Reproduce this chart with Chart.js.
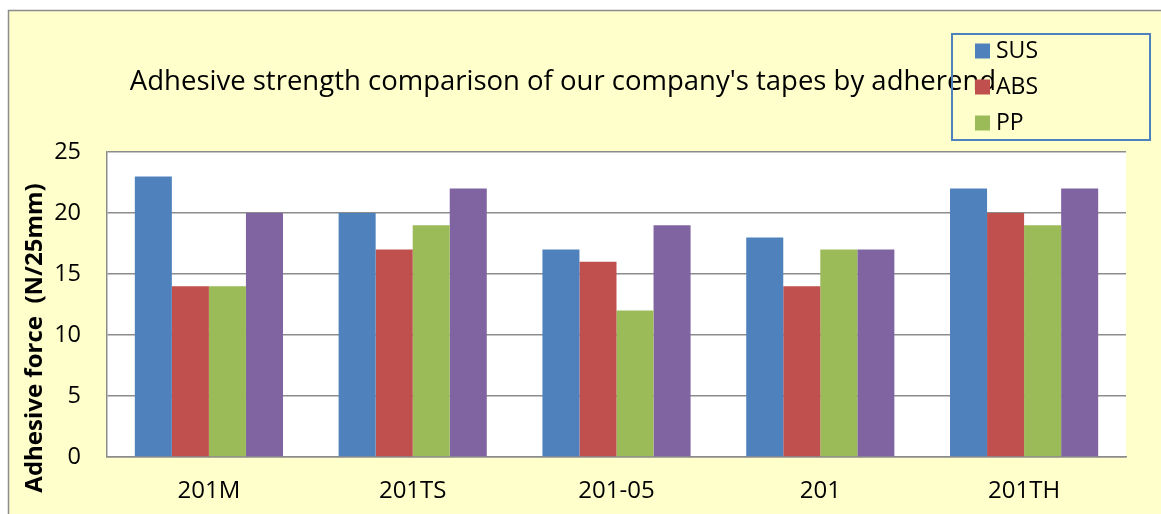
<!DOCTYPE html>
<html><head><meta charset="utf-8">
<script src="https://cdn.jsdelivr.net/npm/chart.js@4/dist/chart.umd.min.js"></script>
<style>html,body{margin:0;padding:0;background:#fff;overflow:hidden}</style>
</head><body>
<canvas id="c" width="1161" height="514" style="display:block;width:1161px;height:514px"></canvas>
<script>
const categories = ['201M', '201TS', '201-05', '201', '201TH'];
const susValues = [23, 20, 17, 18, 22];
const absValues = [14, 17, 16, 14, 20];
const ppValues = [14, 19, 12, 17, 19];
const fourthValues = [20, 22, 19, 17, 22];
const seriesNames = ['SUS', 'ABS', 'PP', ''];
const seriesColors = ['#4F81BD', '#C0504D', '#9BBB59', '#8064A2'];
const yTickValues = [0, 5, 10, 15, 20, 25];
const chartTitle = "Adhesive strength comparison of our company's tapes by adherend";
const yAxisTitle = 'Adhesive force  (N/25mm)';
const legendCount = 3;

const FONT = "'Open Sans', sans-serif";
const BG = '#FFFFCC';

const bgPlugin = {
  id: 'bg',
  beforeDraw(chart) {
    const ctx = chart.ctx, a = chart.chartArea;
    ctx.save();
    ctx.fillStyle = '#ffffff';
    ctx.fillRect(0, 0, chart.width, chart.height);
    ctx.fillStyle = BG;
    ctx.fillRect(8, 10, chart.width - 8, chart.height - 10);
    ctx.strokeStyle = '#8c8c8c';
    ctx.lineWidth = 1.5;
    ctx.beginPath();
    ctx.moveTo(8.5, chart.height);
    ctx.lineTo(8.5, 10.5);
    ctx.lineTo(chart.width, 10.5);
    ctx.stroke();
    ctx.fillStyle = '#ffffff';
    ctx.fillRect(a.left, a.top, a.right - a.left, a.bottom - a.top);
    ctx.restore();
  }
};

const overlayPlugin = {
  id: 'overlay',
  afterDraw(chart) {
    const ctx = chart.ctx;
    ctx.save();
    // y axis title
    ctx.translate(35, 338);
    ctx.rotate(-Math.PI / 2);
    ctx.fillStyle = '#000';
    ctx.font = "bold 24px " + FONT;
    ctx.textAlign = 'center';
    ctx.textBaseline = 'middle';
    ctx.fillText(yAxisTitle, 0, 0);
    ctx.restore();

    // legend
    ctx.save();
    ctx.strokeStyle = '#4F81BD';
    ctx.lineWidth = 2;
    ctx.strokeRect(952, 34, 198, 106);
    ctx.font = "23px " + FONT;
    ctx.textAlign = 'left';
    ctx.textBaseline = 'middle';
    const ds = chart.data.datasets;
    for (let i = 0; i < legendCount; i++) {
      const cy = 51 + i * 36;
      ctx.fillStyle = ds[i].backgroundColor;
      ctx.fillRect(975, cy - 7.5, 15, 15);
      ctx.fillStyle = '#000';
      ctx.fillText(ds[i].label, 996, cy);
    }
    ctx.restore();
  }
};

const dataSeries = [susValues, absValues, ppValues, fourthValues];

new Chart(document.getElementById('c'), {
  type: 'bar',
  data: {
    labels: categories,
    datasets: dataSeries.map((vals, i) => ({
      label: seriesNames[i],
      data: vals,
      backgroundColor: seriesColors[i],
      borderWidth: 0,
      categoryPercentage: 0.727,
      barPercentage: 1.0
    }))
  },
  options: {
    responsive: false,
    animation: false,
    devicePixelRatio: 1,
    layout: { padding: { left: 0, right: 35, top: 0, bottom: 0 } },
    plugins: {
      legend: { display: false },
      tooltip: { enabled: false },
      title: {
        display: true,
        text: chartTitle,
        color: '#000',
        font: { family: FONT, size: 27.5, weight: 'normal', lineHeight: 1.2 },
        padding: { top: 66, bottom: 53 }
      }
    },
    scales: {
      x: {
        afterFit(scale) { scale.height = 57; },
        grid: { display: false, drawTicks: false },
        border: { display: true, color: '#8c8c8c', width: 1.5 },
        ticks: { color: '#000', font: { family: FONT, size: 24 }, padding: 20, maxRotation: 0 }
      },
      y: {
        min: 0, max: 25,
        afterFit(scale) { scale.width = 107; },
        afterBuildTicks(scale) { scale.ticks = yTickValues.map(v => ({ value: v })); },
        grid: { color: '#8c8c8c', lineWidth: 1.5, drawTicks: false },
        border: { display: true, color: '#8c8c8c', width: 1.5 },
        ticks: { color: '#000', font: { family: FONT, size: 23.5 }, padding: 26, stepSize: 5 }
      }
    }
  },
  plugins: [bgPlugin, overlayPlugin]
});
</script>
</body></html>
